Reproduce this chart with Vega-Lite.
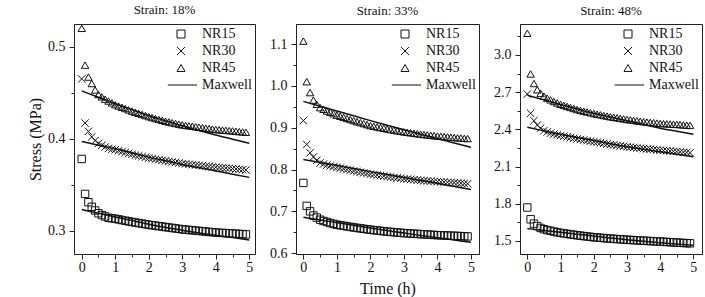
{
"$schema":"https://vega.github.io/schema/vega-lite/v6.json",
"autosize":{"type":"none"},
"padding":{"left":74,"top":24,"right":631,"bottom":273},
"background":"white",
"spacing":41,
"bounds":"flush",
"config":{
 "view":{"stroke":"#222","strokeWidth":1},
 "font":"Liberation Serif",
 "title":{"font":"Liberation Serif","fontSize":13,"fontWeight":"normal","color":"#111","offset":6},
 "axis":{"grid":false,"labelFont":"Liberation Serif","labelFontSize":14,"labelColor":"#111","titleFont":"Liberation Serif","titleFontSize":16,"titleFontWeight":"normal","titleColor":"#111","domainColor":"#222","tickColor":"#222","labelPadding":4,"labelFlush":false,"labelOverlap":false},
 "axisX":{"labelPadding":1},
 "legend":{"labelFont":"Liberation Serif","labelFontSize":14,"labelColor":"#111"}
},
"datasets":{
"pts":[
{"p":"18","t":0,"NR15":0.378,"NR30":0.465,"NR45":0.52},
{"p":"18","t":0.1,"NR15":0.34,"NR30":0.417,"NR45":0.48},
{"p":"18","t":0.2,"NR15":0.331,"NR30":0.408,"NR45":0.467},
{"p":"18","t":0.3,"NR15":0.326,"NR30":0.402,"NR45":0.46},
{"p":"18","t":0.4,"NR15":0.322,"NR30":0.398,"NR45":0.453},
{"p":"18","t":0.5,"NR15":0.319,"NR30":0.395,"NR45":0.448},
{"p":"18","t":0.6,"NR15":0.317,"NR30":0.3928,"NR45":0.4455},
{"p":"18","t":0.7,"NR15":0.3155,"NR30":0.391,"NR45":0.443},
{"p":"18","t":0.8,"NR15":0.314,"NR30":0.3895,"NR45":0.441},
{"p":"18","t":0.9,"NR15":0.3135,"NR30":0.3885,"NR45":0.439},
{"p":"18","t":1.0,"NR15":0.313,"NR30":0.388,"NR45":0.437},
{"p":"18","t":1.1,"NR15":0.3123,"NR30":0.387,"NR45":0.4356},
{"p":"18","t":1.2,"NR15":0.3116,"NR30":0.386,"NR45":0.4342},
{"p":"18","t":1.3,"NR15":0.3109,"NR30":0.385,"NR45":0.4328},
{"p":"18","t":1.4,"NR15":0.3102,"NR30":0.384,"NR45":0.4314},
{"p":"18","t":1.5,"NR15":0.3095,"NR30":0.383,"NR45":0.43},
{"p":"18","t":1.6,"NR15":0.3089,"NR30":0.3822,"NR45":0.4288},
{"p":"18","t":1.7,"NR15":0.3083,"NR30":0.3814,"NR45":0.4276},
{"p":"18","t":1.8,"NR15":0.3077,"NR30":0.3806,"NR45":0.4264},
{"p":"18","t":1.9,"NR15":0.3071,"NR30":0.3798,"NR45":0.4252},
{"p":"18","t":2.0,"NR15":0.3065,"NR30":0.379,"NR45":0.424},
{"p":"18","t":2.1,"NR15":0.306,"NR30":0.3784,"NR45":0.423},
{"p":"18","t":2.2,"NR15":0.3055,"NR30":0.3778,"NR45":0.422},
{"p":"18","t":2.3,"NR15":0.305,"NR30":0.3772,"NR45":0.421},
{"p":"18","t":2.4,"NR15":0.3045,"NR30":0.3766,"NR45":0.42},
{"p":"18","t":2.5,"NR15":0.304,"NR30":0.376,"NR45":0.419},
{"p":"18","t":2.6,"NR15":0.3035,"NR30":0.3754,"NR45":0.4182},
{"p":"18","t":2.7,"NR15":0.303,"NR30":0.3748,"NR45":0.4174},
{"p":"18","t":2.8,"NR15":0.3025,"NR30":0.3742,"NR45":0.4166},
{"p":"18","t":2.9,"NR15":0.302,"NR30":0.3736,"NR45":0.4158},
{"p":"18","t":3.0,"NR15":0.3015,"NR30":0.373,"NR45":0.415},
{"p":"18","t":3.1,"NR15":0.3012,"NR30":0.3726,"NR45":0.4145},
{"p":"18","t":3.2,"NR15":0.3008,"NR30":0.3722,"NR45":0.414},
{"p":"18","t":3.3,"NR15":0.3005,"NR30":0.3718,"NR45":0.4135},
{"p":"18","t":3.4,"NR15":0.3001,"NR30":0.3714,"NR45":0.413},
{"p":"18","t":3.5,"NR15":0.2998,"NR30":0.371,"NR45":0.4125},
{"p":"18","t":3.6,"NR15":0.2994,"NR30":0.3706,"NR45":0.412},
{"p":"18","t":3.7,"NR15":0.2991,"NR30":0.3702,"NR45":0.4115},
{"p":"18","t":3.8,"NR15":0.2987,"NR30":0.3698,"NR45":0.411},
{"p":"18","t":3.9,"NR15":0.2984,"NR30":0.3694,"NR45":0.4105},
{"p":"18","t":4.0,"NR15":0.298,"NR30":0.369,"NR45":0.41},
{"p":"18","t":4.1,"NR15":0.2978,"NR30":0.3687,"NR45":0.4097},
{"p":"18","t":4.2,"NR15":0.2976,"NR30":0.3684,"NR45":0.4094},
{"p":"18","t":4.3,"NR15":0.2974,"NR30":0.3681,"NR45":0.4091},
{"p":"18","t":4.4,"NR15":0.2972,"NR30":0.3678,"NR45":0.4088},
{"p":"18","t":4.5,"NR15":0.297,"NR30":0.3675,"NR45":0.4085},
{"p":"18","t":4.6,"NR15":0.2968,"NR30":0.3671,"NR45":0.4081},
{"p":"18","t":4.7,"NR15":0.2965,"NR30":0.3668,"NR45":0.4077},
{"p":"18","t":4.8,"NR15":0.2963,"NR30":0.3664,"NR45":0.4074},
{"p":"18","t":4.9,"NR15":0.296,"NR30":0.366,"NR45":0.407},
{"p":"33","t":0,"NR15":0.768,"NR30":0.917,"NR45":1.107},
{"p":"33","t":0.1,"NR15":0.713,"NR30":0.86,"NR45":1.01},
{"p":"33","t":0.2,"NR15":0.7,"NR30":0.84,"NR45":0.984},
{"p":"33","t":0.3,"NR15":0.69,"NR30":0.83,"NR45":0.966},
{"p":"33","t":0.4,"NR15":0.685,"NR30":0.822,"NR45":0.956},
{"p":"33","t":0.5,"NR15":0.68,"NR30":0.816,"NR45":0.948},
{"p":"33","t":0.6,"NR15":0.677,"NR30":0.813,"NR45":0.944},
{"p":"33","t":0.7,"NR15":0.6745,"NR30":0.8105,"NR45":0.94},
{"p":"33","t":0.8,"NR15":0.672,"NR30":0.8085,"NR45":0.937},
{"p":"33","t":0.9,"NR15":0.67,"NR30":0.8065,"NR45":0.9335},
{"p":"33","t":1.0,"NR15":0.668,"NR30":0.805,"NR45":0.93},
{"p":"33","t":1.1,"NR15":0.6667,"NR30":0.8033,"NR45":0.9274},
{"p":"33","t":1.2,"NR15":0.6654,"NR30":0.8016,"NR45":0.9248},
{"p":"33","t":1.3,"NR15":0.6641,"NR30":0.7999,"NR45":0.9222},
{"p":"33","t":1.4,"NR15":0.6628,"NR30":0.7982,"NR45":0.9196},
{"p":"33","t":1.5,"NR15":0.6615,"NR30":0.7965,"NR45":0.917},
{"p":"33","t":1.6,"NR15":0.6604,"NR30":0.795,"NR45":0.9146},
{"p":"33","t":1.7,"NR15":0.6593,"NR30":0.7935,"NR45":0.9122},
{"p":"33","t":1.8,"NR15":0.6582,"NR30":0.792,"NR45":0.9098},
{"p":"33","t":1.9,"NR15":0.6571,"NR30":0.7905,"NR45":0.9074},
{"p":"33","t":2.0,"NR15":0.656,"NR30":0.789,"NR45":0.905},
{"p":"33","t":2.1,"NR15":0.6551,"NR30":0.7878,"NR45":0.9034},
{"p":"33","t":2.2,"NR15":0.6542,"NR30":0.7866,"NR45":0.9018},
{"p":"33","t":2.3,"NR15":0.6533,"NR30":0.7854,"NR45":0.9002},
{"p":"33","t":2.4,"NR15":0.6524,"NR30":0.7842,"NR45":0.8986},
{"p":"33","t":2.5,"NR15":0.6515,"NR30":0.783,"NR45":0.897},
{"p":"33","t":2.6,"NR15":0.6508,"NR30":0.782,"NR45":0.8956},
{"p":"33","t":2.7,"NR15":0.6501,"NR30":0.781,"NR45":0.8942},
{"p":"33","t":2.8,"NR15":0.6494,"NR30":0.78,"NR45":0.8928},
{"p":"33","t":2.9,"NR15":0.6487,"NR30":0.779,"NR45":0.8914},
{"p":"33","t":3.0,"NR15":0.648,"NR30":0.778,"NR45":0.89},
{"p":"33","t":3.1,"NR15":0.6475,"NR30":0.7772,"NR45":0.8889},
{"p":"33","t":3.2,"NR15":0.647,"NR30":0.7764,"NR45":0.8878},
{"p":"33","t":3.3,"NR15":0.6465,"NR30":0.7756,"NR45":0.8867},
{"p":"33","t":3.4,"NR15":0.646,"NR30":0.7748,"NR45":0.8856},
{"p":"33","t":3.5,"NR15":0.6455,"NR30":0.774,"NR45":0.8845},
{"p":"33","t":3.6,"NR15":0.645,"NR30":0.7734,"NR45":0.8836},
{"p":"33","t":3.7,"NR15":0.6445,"NR30":0.7728,"NR45":0.8827},
{"p":"33","t":3.8,"NR15":0.644,"NR30":0.7722,"NR45":0.8818},
{"p":"33","t":3.9,"NR15":0.6435,"NR30":0.7716,"NR45":0.8809},
{"p":"33","t":4.0,"NR15":0.643,"NR30":0.771,"NR45":0.88},
{"p":"33","t":4.1,"NR15":0.6427,"NR30":0.7705,"NR45":0.8793},
{"p":"33","t":4.2,"NR15":0.6424,"NR30":0.77,"NR45":0.8786},
{"p":"33","t":4.3,"NR15":0.6421,"NR30":0.7695,"NR45":0.8779},
{"p":"33","t":4.4,"NR15":0.6418,"NR30":0.769,"NR45":0.8772},
{"p":"33","t":4.5,"NR15":0.6415,"NR30":0.7685,"NR45":0.8765},
{"p":"33","t":4.6,"NR15":0.6411,"NR30":0.7679,"NR45":0.8758},
{"p":"33","t":4.7,"NR15":0.6408,"NR30":0.7673,"NR45":0.8752},
{"p":"33","t":4.8,"NR15":0.6404,"NR30":0.7666,"NR45":0.8746},
{"p":"33","t":4.9,"NR15":0.64,"NR30":0.766,"NR45":0.874},
{"p":"48","t":0,"NR15":1.77,"NR30":2.685,"NR45":3.175},
{"p":"48","t":0.1,"NR15":1.675,"NR30":2.53,"NR45":2.847},
{"p":"48","t":0.2,"NR15":1.64,"NR30":2.47,"NR45":2.77},
{"p":"48","t":0.3,"NR15":1.62,"NR30":2.435,"NR45":2.72},
{"p":"48","t":0.4,"NR15":1.605,"NR30":2.41,"NR45":2.69},
{"p":"48","t":0.5,"NR15":1.595,"NR30":2.39,"NR45":2.668},
{"p":"48","t":0.6,"NR15":1.588,"NR30":2.38,"NR45":2.652},
{"p":"48","t":0.7,"NR15":1.582,"NR30":2.37,"NR45":2.638},
{"p":"48","t":0.8,"NR15":1.576,"NR30":2.362,"NR45":2.625},
{"p":"48","t":0.9,"NR15":1.57,"NR30":2.355,"NR45":2.613},
{"p":"48","t":1.0,"NR15":1.565,"NR30":2.35,"NR45":2.602},
{"p":"48","t":1.1,"NR15":1.5612,"NR30":2.3446,"NR45":2.5936},
{"p":"48","t":1.2,"NR15":1.5574,"NR30":2.3392,"NR45":2.5852},
{"p":"48","t":1.3,"NR15":1.5536,"NR30":2.3338,"NR45":2.5768},
{"p":"48","t":1.4,"NR15":1.5498,"NR30":2.3284,"NR45":2.5684},
{"p":"48","t":1.5,"NR15":1.546,"NR30":2.323,"NR45":2.56},
{"p":"48","t":1.6,"NR15":1.5428,"NR30":2.3184,"NR45":2.5536},
{"p":"48","t":1.7,"NR15":1.5396,"NR30":2.3138,"NR45":2.5472},
{"p":"48","t":1.8,"NR15":1.5364,"NR30":2.3092,"NR45":2.5408},
{"p":"48","t":1.9,"NR15":1.5332,"NR30":2.3046,"NR45":2.5344},
{"p":"48","t":2.0,"NR15":1.53,"NR30":2.3,"NR45":2.528},
{"p":"48","t":2.1,"NR15":1.5278,"NR30":2.2956,"NR45":2.5228},
{"p":"48","t":2.2,"NR15":1.5256,"NR30":2.2912,"NR45":2.5176},
{"p":"48","t":2.3,"NR15":1.5234,"NR30":2.2868,"NR45":2.5124},
{"p":"48","t":2.4,"NR15":1.5212,"NR30":2.2824,"NR45":2.5072},
{"p":"48","t":2.5,"NR15":1.519,"NR30":2.278,"NR45":2.502},
{"p":"48","t":2.6,"NR15":1.5172,"NR30":2.2744,"NR45":2.4976},
{"p":"48","t":2.7,"NR15":1.5154,"NR30":2.2708,"NR45":2.4932},
{"p":"48","t":2.8,"NR15":1.5136,"NR30":2.2672,"NR45":2.4888},
{"p":"48","t":2.9,"NR15":1.5118,"NR30":2.2636,"NR45":2.4844},
{"p":"48","t":3.0,"NR15":1.51,"NR30":2.26,"NR45":2.48},
{"p":"48","t":3.1,"NR15":1.5084,"NR30":2.257,"NR45":2.4764},
{"p":"48","t":3.2,"NR15":1.5068,"NR30":2.254,"NR45":2.4728},
{"p":"48","t":3.3,"NR15":1.5052,"NR30":2.251,"NR45":2.4692},
{"p":"48","t":3.4,"NR15":1.5036,"NR30":2.248,"NR45":2.4656},
{"p":"48","t":3.5,"NR15":1.502,"NR30":2.245,"NR45":2.462},
{"p":"48","t":3.6,"NR15":1.5006,"NR30":2.2424,"NR45":2.4592},
{"p":"48","t":3.7,"NR15":1.4992,"NR30":2.2398,"NR45":2.4564},
{"p":"48","t":3.8,"NR15":1.4978,"NR30":2.2372,"NR45":2.4536},
{"p":"48","t":3.9,"NR15":1.4964,"NR30":2.2346,"NR45":2.4508},
{"p":"48","t":4.0,"NR15":1.495,"NR30":2.232,"NR45":2.448},
{"p":"48","t":4.1,"NR15":1.4934,"NR30":2.2298,"NR45":2.4464},
{"p":"48","t":4.2,"NR15":1.4918,"NR30":2.2276,"NR45":2.4448},
{"p":"48","t":4.3,"NR15":1.4902,"NR30":2.2254,"NR45":2.4432},
{"p":"48","t":4.4,"NR15":1.4886,"NR30":2.2232,"NR45":2.4416},
{"p":"48","t":4.5,"NR15":1.487,"NR30":2.221,"NR45":2.44},
{"p":"48","t":4.6,"NR15":1.4855,"NR30":2.2188,"NR45":2.438},
{"p":"48","t":4.7,"NR15":1.484,"NR30":2.2165,"NR45":2.436},
{"p":"48","t":4.8,"NR15":1.4825,"NR30":2.2143,"NR45":2.434},
{"p":"48","t":4.9,"NR15":1.481,"NR30":2.212,"NR45":2.432}
],
"fit":[
{"p":"18","t":0,"NR15":0.323,"NR30":0.397,"NR45":0.452},
{"p":"18","t":0.5,"NR15":0.319,"NR30":0.393,"NR45":0.445},
{"p":"18","t":1,"NR15":0.315,"NR30":0.389,"NR45":0.438},
{"p":"18","t":1.5,"NR15":0.311,"NR30":0.3845,"NR45":0.4315},
{"p":"18","t":2,"NR15":0.307,"NR30":0.38,"NR45":0.425},
{"p":"18","t":2.5,"NR15":0.3035,"NR30":0.376,"NR45":0.4195},
{"p":"18","t":3,"NR15":0.3005,"NR30":0.372,"NR45":0.414},
{"p":"18","t":3.5,"NR15":0.2975,"NR30":0.3685,"NR45":0.409},
{"p":"18","t":4,"NR15":0.295,"NR30":0.365,"NR45":0.404},
{"p":"18","t":4.5,"NR15":0.2925,"NR30":0.3615,"NR45":0.3995},
{"p":"18","t":5,"NR15":0.29,"NR30":0.358,"NR45":0.395},
{"p":"33","t":0,"NR15":0.686,"NR30":0.824,"NR45":0.963},
{"p":"33","t":0.5,"NR15":0.6795,"NR30":0.817,"NR45":0.9515},
{"p":"33","t":1,"NR15":0.673,"NR30":0.81,"NR45":0.94},
{"p":"33","t":1.5,"NR15":0.6665,"NR30":0.8025,"NR45":0.9285},
{"p":"33","t":2,"NR15":0.66,"NR30":0.795,"NR45":0.917},
{"p":"33","t":2.5,"NR15":0.654,"NR30":0.788,"NR45":0.906},
{"p":"33","t":3,"NR15":0.648,"NR30":0.781,"NR45":0.895},
{"p":"33","t":3.5,"NR15":0.6425,"NR30":0.774,"NR45":0.8845},
{"p":"33","t":4,"NR15":0.637,"NR30":0.767,"NR45":0.874},
{"p":"33","t":4.5,"NR15":0.6315,"NR30":0.7595,"NR45":0.8635},
{"p":"33","t":5,"NR15":0.626,"NR30":0.752,"NR45":0.853},
{"p":"48","t":0,"NR15":1.6,"NR30":2.417,"NR45":2.675},
{"p":"48","t":0.5,"NR15":1.585,"NR30":2.388,"NR45":2.638},
{"p":"48","t":1,"NR15":1.57,"NR30":2.36,"NR45":2.6},
{"p":"48","t":1.5,"NR15":1.555,"NR30":2.335,"NR45":2.565},
{"p":"48","t":2,"NR15":1.54,"NR30":2.31,"NR45":2.53},
{"p":"48","t":2.5,"NR15":1.525,"NR30":2.285,"NR45":2.5},
{"p":"48","t":3,"NR15":1.51,"NR30":2.26,"NR45":2.47},
{"p":"48","t":3.5,"NR15":1.497,"NR30":2.24,"NR45":2.44},
{"p":"48","t":4,"NR15":1.485,"NR30":2.22,"NR45":2.41},
{"p":"48","t":4.5,"NR15":1.475,"NR30":2.2,"NR45":2.385},
{"p":"48","t":5,"NR15":1.465,"NR30":2.18,"NR45":2.36}
]
},
"resolve":{"scale":{"shape":"independent","x":"independent","y":"independent"},"legend":{"shape":"independent"}},
"hconcat":[
{"width":181,"height":230,"title":"Strain: 18%",
 "encoding":{
  "x":{"field":"t","type":"quantitative","scale":{"domain":[-0.23,5.17],"nice":false,"zero":false},
   "axis":{"title":null,"values":[0,0.5,1,1.5,2,2.5,3,3.5,4,4.5,5],"labelExpr":"datum.value % 1 == 0 ? format(datum.value,'d') : ''","tickSize":{"condition":{"test":"datum.value % 1 == 0","value":5},"value":3}}},
  "y":{"field":"v","type":"quantitative","scale":{"domain":[0.2747,0.5247],"nice":false,"zero":false},
   "axis":{"title":"Stress (MPa)","titlePadding":4,"values":[0.3,0.35,0.4,0.45,0.5],"labelExpr":"abs(datum.value*10-round(datum.value*10))<0.01 ? format(datum.value,'.1f') : ''","tickSize":{"condition":{"test":"abs(datum.value*10-round(datum.value*10))<0.01","value":5},"value":3}}}
 },
 "layer":[
  {"data":{"name":"pts"},"transform":[{"filter":"datum.p=='18'"},{"fold":["NR15","NR30","NR45"],"as":["s","v"]}],
   "mark":{"type":"point","filled":false,"color":"#111","strokeWidth":1,"size":55,"opacity":1},
   "encoding":{"shape":{"field":"s","type":"nominal","scale":{"domain":["NR15","NR30","NR45","Maxwell"],"range":["square","M-1,-1L1,1M-1,1L1,-1","triangle-up","M-3.3,0L4,0"]},
    "legend":{"title":null,"orient":"top-right","offset":3,"padding":0,"symbolSize":64,"symbolStrokeColor":"#111","symbolStrokeWidth":1,"symbolFillColor":"transparent","labelOffset":14,"rowPadding":3}}}},
  {"data":{"name":"fit"},"transform":[{"filter":"datum.p=='18'"},{"fold":["NR15","NR30","NR45"],"as":["s","v"]}],
   "mark":{"type":"line","color":"#111","strokeWidth":1.5,"interpolate":"monotone"},
   "encoding":{"detail":{"field":"s","type":"nominal"}}}
 ]},
{"width":183,"height":230,"title":"Strain: 33%",
 "encoding":{
  "x":{"field":"t","type":"quantitative","scale":{"domain":[-0.22,5.24],"nice":false,"zero":false},
   "axis":{"title":"Time (h)","titlePadding":6,"values":[0,0.5,1,1.5,2,2.5,3,3.5,4,4.5,5],"labelExpr":"datum.value % 1 == 0 ? format(datum.value,'d') : ''","tickSize":{"condition":{"test":"datum.value % 1 == 0","value":5},"value":3}}},
  "y":{"field":"v","type":"quantitative","scale":{"domain":[0.598,1.148],"nice":false,"zero":false},
   "axis":{"title":null,"values":[0.6,0.65,0.7,0.75,0.8,0.85,0.9,0.95,1.0,1.05,1.1],"labelExpr":"abs(datum.value*10-round(datum.value*10))<0.01 ? format(datum.value,'.1f') : ''","tickSize":{"condition":{"test":"abs(datum.value*10-round(datum.value*10))<0.01","value":5},"value":3}}}
 },
 "layer":[
  {"data":{"name":"pts"},"transform":[{"filter":"datum.p=='33'"},{"fold":["NR15","NR30","NR45"],"as":["s","v"]}],
   "mark":{"type":"point","filled":false,"color":"#111","strokeWidth":1,"size":55,"opacity":1},
   "encoding":{"shape":{"field":"s","type":"nominal","scale":{"domain":["NR15","NR30","NR45","Maxwell"],"range":["square","M-1,-1L1,1M-1,1L1,-1","triangle-up","M-3.3,0L4,0"]},
    "legend":{"title":null,"orient":"top-right","offset":3,"padding":0,"symbolSize":64,"symbolStrokeColor":"#111","symbolStrokeWidth":1,"symbolFillColor":"transparent","labelOffset":14,"rowPadding":3}}}},
  {"data":{"name":"fit"},"transform":[{"filter":"datum.p=='33'"},{"fold":["NR15","NR30","NR45"],"as":["s","v"]}],
   "mark":{"type":"line","color":"#111","strokeWidth":1.5,"interpolate":"monotone"},
   "encoding":{"detail":{"field":"s","type":"nominal"}}}
 ]},
{"width":182,"height":230,"title":"Strain: 48%",
 "encoding":{
  "x":{"field":"t","type":"quantitative","scale":{"domain":[-0.22,5.26],"nice":false,"zero":false},
   "axis":{"title":null,"values":[0,0.5,1,1.5,2,2.5,3,3.5,4,4.5,5],"labelExpr":"datum.value % 1 == 0 ? format(datum.value,'d') : ''","tickSize":{"condition":{"test":"datum.value % 1 == 0","value":5},"value":3}}},
  "y":{"field":"v","type":"quantitative","scale":{"domain":[1.395,3.25],"nice":false,"zero":false},
   "axis":{"title":null,"values":[1.5,1.65,1.8,1.95,2.1,2.25,2.4,2.55,2.7,2.85,3.0,3.15],"labelExpr":"abs(datum.value/0.3-round(datum.value/0.3))<0.01 ? format(datum.value,'.1f') : ''","tickSize":{"condition":{"test":"abs(datum.value/0.3-round(datum.value/0.3))<0.01","value":5},"value":3}}}
 },
 "layer":[
  {"data":{"name":"pts"},"transform":[{"filter":"datum.p=='48'"},{"fold":["NR15","NR30","NR45"],"as":["s","v"]}],
   "mark":{"type":"point","filled":false,"color":"#111","strokeWidth":1,"size":55,"opacity":1},
   "encoding":{"shape":{"field":"s","type":"nominal","scale":{"domain":["NR15","NR30","NR45","Maxwell"],"range":["square","M-1,-1L1,1M-1,1L1,-1","triangle-up","M-3.3,0L4,0"]},
    "legend":{"title":null,"orient":"top-right","offset":3,"padding":0,"symbolSize":64,"symbolStrokeColor":"#111","symbolStrokeWidth":1,"symbolFillColor":"transparent","labelOffset":14,"rowPadding":3}}}},
  {"data":{"name":"fit"},"transform":[{"filter":"datum.p=='48'"},{"fold":["NR15","NR30","NR45"],"as":["s","v"]}],
   "mark":{"type":"line","color":"#111","strokeWidth":1.5,"interpolate":"monotone"},
   "encoding":{"detail":{"field":"s","type":"nominal"}}}
 ]}
]
}
